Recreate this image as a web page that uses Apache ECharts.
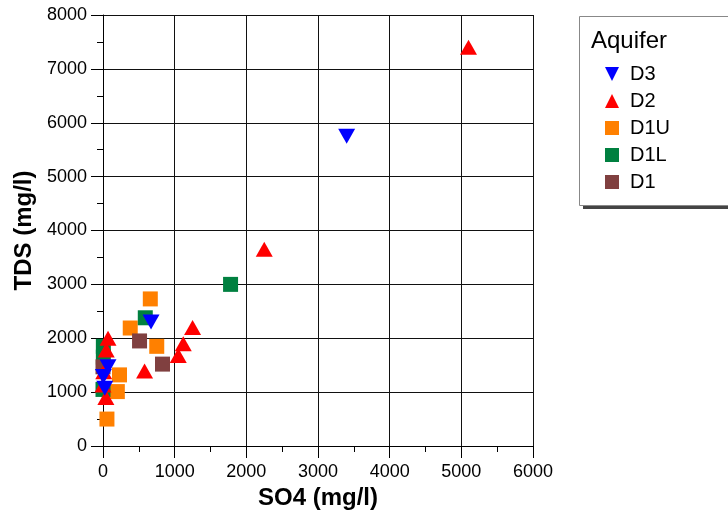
<!DOCTYPE html>
<html>
<head>
<meta charset="utf-8">
<script src="https://cdn.jsdelivr.net/npm/echarts@6/dist/echarts.min.js"></script>
<style>
  html, body { margin: 0; padding: 0; background: #fff; }
  #main { width: 728px; height: 515px; }
</style>
</head>
<body>
<div id="main"></div>
<script>
    // data (SO4 vs TDS, mg/l)
    var d3So4 = [3400, 670, 70, 5, 25];
    var d3Tds = [5750, 2300, 1470, 1290, 1070];

    var d2So4 = [5100, 2250, 1250, 1120, 1050, 580, 70, 45, 10, 0, 40];
    var d2Tds = [7400, 3650, 2200, 1900, 1680, 1390, 2000, 1780, 1380, 1130, 900];

    var d1uSo4 = [660, 380, 750, 230, 200, 55];
    var d1uTds = [2730, 2190, 1850, 1320, 1010, 500];

    var d1lSo4 = [1780, 590, 5, 5, 0];
    var d1lTds = [3000, 2380, 1850, 1650, 1050];

    var d1So4 = [510, 830, 0];
    var d1Tds = [1950, 1520, 1470];

    var groups = ['D3', 'D2', 'D1U', 'D1L', 'D1'];

    function pairs(xs, ys) {
        return xs.map(function (x, i) { return [x, ys[i]]; });
    }

    var myChart = echarts.init(document.getElementById('main'));
    var font = 'Liberation Sans, Arial, sans-serif';
    var downTri = 'path://M0,0 L20,0 L10,20 Z';

    var axisCommon = {
        type: 'value',
        nameLocation: 'middle',
        nameTextStyle: { fontSize: 24, fontWeight: 'bold', color: '#000', fontFamily: font },
        axisLine: { show: true, onZero: false, lineStyle: { color: '#000', width: 1 } },
        axisTick: { show: true, length: 12, lineStyle: { color: '#000' } },
        minorTick: { show: true, splitNumber: 2, length: 6, lineStyle: { color: '#000' } },
        splitLine: { show: true, lineStyle: { color: '#111', width: 1 } }
    };

    function labels(margin) {
        return {
            fontSize: 18, color: '#000', fontFamily: font, margin: margin,
            formatter: function (v) { return String(v); }
        };
    }

    myChart.setOption({
        animation: false,
        backgroundColor: '#fff',
        textStyle: { fontFamily: font },
        grid: { left: 103, right: 195, top: 15, bottom: 69 },
        graphic: [
            // legend box with shadow
            { type: 'rect', z: 0, shape: { x: 583, y: 20, width: 160, height: 189 },
              style: { fill: '#444' } },
            { type: 'rect', z: 1, shape: { x: 579.5, y: 16.5, width: 160, height: 189 },
              style: { fill: '#fff', stroke: '#888', lineWidth: 1 } },
            { type: 'text', z: 2, left: 591, top: 29,
              style: { text: 'Aquifer', fontSize: 24, fontFamily: font, fill: '#000' } }
        ],
        legend: {
            orient: 'vertical',
            left: 600,
            top: 59,
            itemWidth: 14,
            itemHeight: 14,
            itemGap: 7,
            data: [
                { name: 'D3', icon: downTri },
                { name: 'D2', icon: 'triangle' },
                { name: 'D1U', icon: 'rect' },
                { name: 'D1L', icon: 'rect' },
                { name: 'D1', icon: 'rect' }
            ],
            textStyle: { fontSize: 20, color: '#000', fontFamily: font, padding: [0, 0, 0, 6] },
            z: 5
        },
        xAxis: Object.assign({}, axisCommon, {
            min: 0, max: 6000, interval: 1000,
            name: 'SO4 (mg/l)',
            nameGap: 37,
            axisLabel: labels(17)
        }),
        yAxis: Object.assign({}, axisCommon, {
            min: 0, max: 8000, interval: 1000,
            name: 'TDS (mg/l)',
            nameGap: 63,
            axisLabel: labels(16)
        }),
        series: [
            { name: 'D1U', type: 'scatter', z: 2, symbol: 'rect', symbolSize: 15,
              itemStyle: { color: '#FF8000', opacity: 1 }, data: pairs(d1uSo4, d1uTds) },
            { name: 'D1L', type: 'scatter', z: 2, symbol: 'rect', symbolSize: 15,
              itemStyle: { color: '#008040', opacity: 1 }, data: pairs(d1lSo4, d1lTds) },
            { name: 'D1', type: 'scatter', z: 3, symbol: 'rect', symbolSize: 15,
              itemStyle: { color: '#804040', opacity: 1 }, data: pairs(d1So4, d1Tds) },
            { name: 'D2', type: 'scatter', z: 4, symbol: 'triangle', symbolSize: [17, 15],
              itemStyle: { color: '#FF0000', opacity: 1 }, data: pairs(d2So4, d2Tds) },
            { name: 'D3', type: 'scatter', z: 5, symbol: 'triangle', symbolRotate: 180,
              symbolSize: [17, 15],
              itemStyle: { color: '#0000FF', opacity: 1 }, data: pairs(d3So4, d3Tds) }
        ]
    });
</script>
</body>
</html>
